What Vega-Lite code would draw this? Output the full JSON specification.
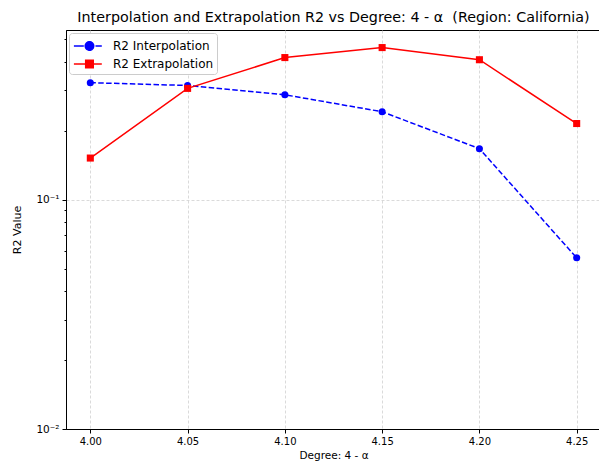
{
  "$schema": "https://vega.github.io/schema/vega-lite/v6.json",
  "width": 535,
  "height": 399,
  "autosize": {"type": "none"},
  "padding": {"left": 66, "top": 30, "right": 0, "bottom": 37},
  "background": "white",
  "title": {"text": "Interpolation and Extrapolation R2 vs Degree: 4 - α\u00a0 (Region: California)", "font": "DejaVu Sans", "fontSize": 14.3, "fontWeight": "normal", "color": "black", "anchor": "middle", "offset": 5},
  "config": {
    "view": {"stroke": "black", "strokeWidth": 1},
    "axis": {"labelFont": "DejaVu Sans", "titleFont": "DejaVu Sans", "labelFontSize": 10, "titleFontSize": 11, "titleFontWeight": "normal", "labelColor": "black", "titleColor": "black", "domainColor": "black", "tickColor": "black", "gridColor": "#d0d0d0", "gridDash": [3, 2], "gridWidth": 0.8}
  },
  "data": {"values": [
    {"degree": 4.00, "series": "R2 Interpolation", "r2": 0.324},
    {"degree": 4.05, "series": "R2 Interpolation", "r2": 0.315},
    {"degree": 4.10, "series": "R2 Interpolation", "r2": 0.287},
    {"degree": 4.15, "series": "R2 Interpolation", "r2": 0.242},
    {"degree": 4.20, "series": "R2 Interpolation", "r2": 0.167},
    {"degree": 4.25, "series": "R2 Interpolation", "r2": 0.0558},
    {"degree": 4.00, "series": "R2 Extrapolation", "r2": 0.152},
    {"degree": 4.05, "series": "R2 Extrapolation", "r2": 0.306},
    {"degree": 4.10, "series": "R2 Extrapolation", "r2": 0.417},
    {"degree": 4.15, "series": "R2 Extrapolation", "r2": 0.461},
    {"degree": 4.20, "series": "R2 Extrapolation", "r2": 0.408},
    {"degree": 4.25, "series": "R2 Extrapolation", "r2": 0.215}
  ]},
  "encoding": {
    "x": {"field": "degree", "type": "quantitative", "title": "Degree: 4 - α",
      "scale": {"domain": [3.9875, 4.2625], "nice": false, "zero": false},
      "axis": {"values": [4.00, 4.05, 4.10, 4.15, 4.20, 4.25], "format": ".2f", "tickSize": 4, "labelPadding": 3, "titlePadding": 4, "titleFontSize": 10.5, "grid": true}},
    "y": {"field": "r2", "type": "quantitative", "title": "R2 Value",
      "scale": {"type": "log", "domain": [0.01, 0.55], "nice": false},
      "axis": {"values": [0.01, 0.02, 0.03, 0.04, 0.05, 0.06, 0.07, 0.08, 0.09, 0.1, 0.2, 0.3, 0.4, 0.5],
        "labelExpr": "datum.value == 0.01 ? '10⁻²' : (datum.value == 0.1 ? '10⁻¹' : '')",
        "tickSize": {"condition": {"test": "datum.value == 0.01 || datum.value == 0.1", "value": 4}, "value": 2},
        "gridOpacity": {"condition": {"test": "datum.value == 0.1", "value": 1}, "value": 0},
        "labelPadding": 3, "labelFontSize": 10.5, "titlePadding": 13, "grid": true}},
    "color": {"field": "series", "type": "nominal", "sort": ["R2 Interpolation", "R2 Extrapolation"],
      "scale": {"domain": ["R2 Interpolation", "R2 Extrapolation"], "range": ["#0000ff", "#ff0000"]},
      "legend": {"title": null, "orient": "none", "legendX": 3, "legendY": 3, "padding": 3, "strokeColor": "#cccccc", "fillColor": "white", "cornerRadius": 3,
        "labelFont": "DejaVu Sans", "labelFontSize": 12, "labelColor": "black", "labelOffset": 21, "rowPadding": 0,
        "symbolSize": 324, "symbolStrokeWidth": 1.5, "symbolOpacity": 1,
        "encode": {"symbols": {"update": {
          "shape": {"signal": "datum.value === 'R2 Interpolation' ? 'M-0.9,0H0.2M1.5,0H2.2M0.36,0A0.47,0.47,0,1,1,1.3,0A0.47,0.47,0,1,1,0.36,0Z' : 'M-0.9,0H2.2M0.41,-0.42H1.25V0.42H0.41Z'"},
          "fill": {"signal": "datum.value === 'R2 Interpolation' ? '#0000ff' : '#ff0000'"},
          "stroke": {"signal": "datum.value === 'R2 Interpolation' ? '#0000ff' : '#ff0000'"},
          "strokeDash": {"value": [1, 0]}
        }}}}
    }
  },
  "layer": [
    {
      "transform": [{"filter": "datum.series === 'R2 Interpolation'"}],
      "mark": {"type": "line", "strokeWidth": 1.5, "strokeDash": [5.5, 2.4]}
    },
    {
      "transform": [{"filter": "datum.series === 'R2 Interpolation'"}],
      "mark": {"type": "point", "filled": true, "opacity": 1, "shape": "circle", "size": 50}
    },
    {
      "transform": [{"filter": "datum.series === 'R2 Extrapolation'"}],
      "mark": {"type": "line", "strokeWidth": 1.5}
    },
    {
      "transform": [{"filter": "datum.series === 'R2 Extrapolation'"}],
      "mark": {"type": "point", "filled": true, "opacity": 1, "shape": "square", "size": 50}
    }
  ]
}
